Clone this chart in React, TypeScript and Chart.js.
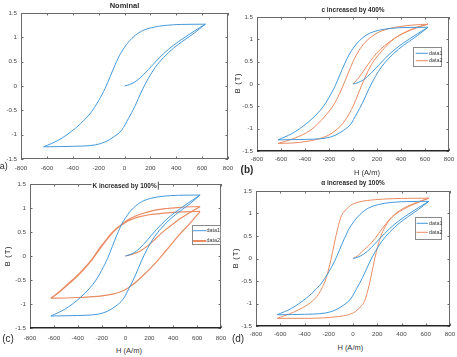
import React, { useEffect, useRef } from 'react';
import { Chart, registerables } from 'chart.js';

Chart.register(...registerables);

// ---------- axis ticks ----------
const X_TICKS = [-800, -600, -400, -200, 0, 200, 400, 600, 800];
const X_TICK_LABELS = ['-800', '-600', '-400', '-200', '0', '200', '400', '600', '800'];
const Y_TICKS = [-1.5, -1, -0.5, 0, 0.5, 1, 1.5];
const Y_TICK_LABELS = ['-1.5', '-1', '-0.5', '0', '0.5', '1', '1.5'];

// ---------- text ----------
const SERIES_LABELS = ['data1', 'data2'];
const PANEL_TITLES = ['Nominal', 'c increased by 400%', 'K increased by 100%', 'α increased by 100%'];
const PANEL_TAGS = ['a)', '(b)', '(c)', '(d)'];
const X_AXIS_TITLE = 'H (A/m)';
const Y_AXIS_TITLE = 'B (T)';

// ---------- data: [H (A/m), B (T)] ----------
// Nominal loop (data1 in every panel)
const NOM_INIT: [number, number][] = [[0, 0], [40, 0.03], [90, 0.1], [150, 0.24], [220, 0.44], [300, 0.66], [380, 0.84], [460, 0.99], [540, 1.13], [625, 1.27]];
const NOM_DESC: [number, number][] = [[-625, -1.25], [-509, -1.11], [-380, -0.87], [-300, -0.67], [-252, -0.52], [-200, -0.3], [-150, -0.05], [-110, 0.2], [-70, 0.45], [-30, 0.67], [30, 0.9], [83, 1.04], [134, 1.13], [211, 1.2], [314, 1.245], [443, 1.265], [625, 1.27]];
const NOM_ASC: [number, number][] = [[-625, -1.25], [-500, -1.245], [-400, -1.24], [-330, -1.235], [-226, -1.21], [-150, -1.15], [-80, -1.04], [-20, -0.9], [30, -0.67], [80, -0.42], [134, -0.1], [185, 0.16], [237, 0.38], [300, 0.58], [380, 0.78], [460, 0.94], [540, 1.09], [625, 1.27]];

// c increased by 400% (data2 of panel b)
const C400_INIT: [number, number][] = [[0, 0], [50, 0.15], [100, 0.34], [150, 0.53], [200, 0.7], [260, 0.85], [350, 1.03], [450, 1.18], [540, 1.28], [625, 1.34]];
const C400_DESC: [number, number][] = [[-625, -1.33], [-493, -1.22], [-352, -1.03], [-240, -0.74], [-155, -0.44], [-99, -0.14], [-42, 0.23], [0, 0.5], [50, 0.75], [100, 0.93], [150, 1.05], [200, 1.14], [300, 1.24], [400, 1.29], [500, 1.32], [625, 1.34]];
const C400_ASC: [number, number][] = [[-625, -1.33], [-500, -1.32], [-400, -1.29], [-300, -1.24], [-200, -1.14], [-150, -1.05], [-100, -0.93], [-50, -0.75], [0, -0.5], [42, -0.23], [99, 0.14], [155, 0.44], [240, 0.74], [352, 1.03], [493, 1.22], [625, 1.34]];

// K increased by 100% (data2 of panel c)
const K100_INIT: [number, number][] = [[0, 0], [60, 0.04], [121, 0.1], [180, 0.2], [231, 0.31], [290, 0.45], [342, 0.56], [400, 0.67], [453, 0.77], [510, 0.86], [564, 0.94], [625, 1.03]];
const K100_DESC1: [number, number][] = [[-625, -0.88], [-560, -0.76], [-503, -0.63], [-450, -0.51], [-392, -0.38], [-340, -0.24], [-281, -0.07], [-230, 0.12], [-170, 0.31], [-130, 0.44], [-87, 0.55], [-40, 0.64], [0, 0.72], [50, 0.79], [100, 0.85], [176, 0.91], [259, 0.96], [350, 0.99], [453, 1.015], [625, 1.03]];
const K100_DESC2: [number, number][] = [[-625, -0.885], [-503, -0.64], [-392, -0.39], [-281, -0.08], [-170, 0.3], [-87, 0.54], [0, 0.7], [60, 0.77], [120, 0.82], [200, 0.86], [300, 0.89], [400, 0.91], [500, 0.92], [625, 0.93]];
const K100_ASC: [number, number][] = [[-625, -0.88], [-500, -0.875], [-400, -0.865], [-300, -0.85], [-198, -0.83], [-100, -0.79], [-46, -0.75], [0, -0.7], [65, -0.59], [150, -0.4], [231, -0.2], [342, 0.12], [453, 0.45], [540, 0.68], [625, 0.93]];

// alpha increased by 100% (data2 of panel d)
const A100_INIT: [number, number][] = [[0, 0], [40, 0.06], [72, 0.15], [128, 0.28], [183, 0.45], [239, 0.66], [280, 0.8], [322, 0.93], [406, 1.1], [500, 1.22], [625, 1.34]];
const A100_DESC: [number, number][] = [[-625, -1.33], [-480, -1.18], [-350, -0.98], [-300, -0.85], [-260, -0.68], [-230, -0.5], [-205, -0.28], [-180, 0.0], [-155, 0.32], [-125, 0.68], [-95, 0.95], [-60, 1.08], [-20, 1.18], [40, 1.25], [120, 1.29], [250, 1.32], [400, 1.335], [625, 1.34]];
const A100_ASC: [number, number][] = [[-625, -1.33], [-400, -1.33], [-250, -1.32], [-120, -1.29], [-40, -1.25], [20, -1.18], [60, -1.08], [95, -0.95], [125, -0.68], [155, -0.32], [180, 0.0], [205, 0.28], [230, 0.5], [260, 0.68], [300, 0.85], [350, 0.98], [480, 1.18], [625, 1.34]];

// ---------- styling ----------
const FONT = "'Liberation Sans', Arial, Helvetica, sans-serif";
const BLUE = '#4599da';
const ORANGE = '#ea8c63';
const TICK_COLOR = '#474747';
const FRAME_COLOR = '#6a6a6a';

type Series = { label: string; color: string; width: number; legendWidth: number; branches: [number, number][][] };
type LegendSpec = { x: number; y: number; w: number; h: number; rows: number[]; line: [number, number]; textX: number };
type Panel = {
  geo: { l: number; t: number; r: number; b: number };
  pad: { L: number; T: number; R: number; B: number };
  xPad: number;
  bottomDark: boolean;
  series: Series[];
  legend: LegendSpec | null;
};

const blueSeries: Series = { label: SERIES_LABELS[0], color: BLUE, width: 1, legendWidth: 1, branches: [NOM_INIT, NOM_DESC, NOM_ASC] };

const PANELS: Panel[] = [
  {
    geo: { l: 21, t: 13, r: 228, b: 159 }, pad: { L: 22, T: 6, R: 8, B: 16 }, xPad: 6, bottomDark: false,
    series: [blueSeries], legend: null,
  },
  {
    geo: { l: 257, t: 17, r: 449, b: 151 }, pad: { L: 20, T: 6, R: 7, B: 16 }, xPad: 4.5, bottomDark: true,
    series: [blueSeries, { label: SERIES_LABELS[1], color: ORANGE, width: 1, legendWidth: 1, branches: [C400_INIT, C400_DESC, C400_ASC] }],
    legend: { x: 413, y: 47, w: 29, h: 20, rows: [6.3, 13.7], line: [2.7, 15], textX: 16 },
  },
  {
    geo: { l: 30, t: 184, r: 221, b: 328 }, pad: { L: 22, T: 6, R: 7, B: 16 }, xPad: 6.5, bottomDark: true,
    series: [blueSeries, { label: SERIES_LABELS[1], color: ORANGE, width: 1.2, legendWidth: 2, branches: [K100_INIT, K100_DESC1, K100_DESC2, K100_ASC] }],
    legend: { x: 192, y: 225, w: 29, h: 20, rows: [5.7, 16], line: [1, 14], textX: 14.5 },
  },
  {
    geo: { l: 256, t: 191, r: 450, b: 326 }, pad: { L: 20, T: 6, R: 6, B: 16 }, xPad: 4.5, bottomDark: true,
    series: [blueSeries, { label: SERIES_LABELS[1], color: ORANGE, width: 1, legendWidth: 1, branches: [A100_INIT, A100_DESC, A100_ASC] }],
    legend: { x: 415, y: 217, w: 27, h: 23, rows: [6.3, 15.3], line: [1.5, 13], textX: 14 },
  },
];

// ---------- plugins ----------
const framePlugin = {
  id: 'frame',
  afterDatasetsDraw(chart: any) {
    const { ctx, chartArea: a, scales } = chart;
    const len = 2.5;
    ctx.save();
    ctx.strokeStyle = FRAME_COLOR;
    ctx.lineWidth = 1;
    ctx.beginPath();
    for (const v of X_TICKS) {
      const px = Math.round(scales.x.getPixelForValue(v)) + 0.5;
      ctx.moveTo(px, a.bottom); ctx.lineTo(px, a.bottom - len);
      ctx.moveTo(px, a.top); ctx.lineTo(px, a.top + len);
    }
    for (const v of Y_TICKS) {
      const py = Math.round(scales.y.getPixelForValue(v)) + 0.5;
      ctx.moveTo(a.left, py); ctx.lineTo(a.left + len, py);
      ctx.moveTo(a.right, py); ctx.lineTo(a.right - len, py);
    }
    ctx.stroke();
    const L = Math.round(a.left), T = Math.round(a.top), R = Math.round(a.right), B = Math.round(a.bottom);
    ctx.strokeRect(L + 0.5, T + 0.5, R - L - 1, B - T - 1);
    if (chart.$bottomDark) {
      ctx.strokeStyle = '#262626';
      ctx.lineWidth = 1.6;
      ctx.beginPath();
      ctx.moveTo(L, B - 0.3);
      ctx.lineTo(R, B - 0.3);
      ctx.stroke();
    }
    ctx.restore();
  },
};

const boxLegendPlugin = {
  id: 'boxLegend',
  afterDraw(chart: any) {
    const spec = chart.$boxLegend as LegendSpec | null;
    if (!spec) return;
    const ctx = chart.ctx;
    const seen: any[] = [];
    const labels: string[] = [];
    chart.data.datasets.forEach((ds: any) => {
      if (!labels.includes(ds.label)) { labels.push(ds.label); seen.push(ds); }
    });
    ctx.save();
    ctx.fillStyle = '#ffffff';
    ctx.fillRect(spec.x, spec.y, spec.w, spec.h);
    ctx.strokeStyle = '#8a8a8a';
    ctx.lineWidth = 1;
    ctx.strokeRect(Math.round(spec.x) + 0.5, Math.round(spec.y) + 0.5, Math.round(spec.w) - 1, Math.round(spec.h) - 1);
    ctx.font = `5.4px ${FONT}`;
    ctx.textBaseline = 'middle';
    ctx.textAlign = 'left';
    seen.forEach((ds, i) => {
      const yy = spec.y + spec.rows[i];
      ctx.strokeStyle = ds.borderColor;
      ctx.lineWidth = ds.legendWidth || 1;
      ctx.beginPath();
      ctx.moveTo(spec.x + spec.line[0], yy);
      ctx.lineTo(spec.x + spec.line[1], yy);
      ctx.stroke();
      ctx.fillStyle = '#3a3a3a';
      ctx.fillText(ds.label, spec.x + spec.textX, yy);
    });
    ctx.restore();
  },
};

// ---------- chart panel ----------
function ChartPanel({ p }: { p: Panel }) {
  const ref = useRef<HTMLCanvasElement>(null);
  const { l, t, r, b } = p.geo;
  const { L, T, R, B } = p.pad;
  const left = l - L;
  const top = t - T;
  const width = r - l + L + R;
  const height = b - t + T + B;

  useEffect(() => {
    if (!ref.current) return;
    const datasets = p.series.flatMap((s) =>
      s.branches.map((br) => ({
        label: s.label,
        data: br.map(([h, v]) => ({ x: h, y: v })),
        borderColor: s.color,
        borderWidth: s.width,
        pointRadius: 0,
        fill: false,
        cubicInterpolationMode: 'monotone' as const,
        legendWidth: s.legendWidth,
      }))
    );
    const tickFont = { family: FONT, size: 6.2 };
    const chart: any = new Chart(ref.current, {
      type: 'line',
      data: { datasets: datasets as any },
      options: {
        animation: false,
        responsive: false,
        events: [],
        layout: { padding: { left: 0, top: T, right: R, bottom: 0 } },
        plugins: { legend: { display: false }, tooltip: { enabled: false } },
        scales: {
          x: {
            type: 'linear',
            min: -800,
            max: 800,
            afterBuildTicks: (s: any) => { s.ticks = X_TICKS.map((v) => ({ value: v })); },
            afterFit: (s: any) => { s.height = B; s.paddingLeft = 0; s.paddingRight = 0; },
            grid: { display: false, drawTicks: false },
            border: { display: false },
            ticks: {
              padding: p.xPad,
              font: tickFont,
              color: TICK_COLOR,
              maxRotation: 0,
              autoSkip: false,
              callback: (v: any) => X_TICK_LABELS[X_TICKS.indexOf(Number(v))],
            },
          },
          y: {
            type: 'linear',
            min: -1.5,
            max: 1.5,
            afterBuildTicks: (s: any) => { s.ticks = Y_TICKS.map((v) => ({ value: v })); },
            afterFit: (s: any) => { s.width = L; s.paddingTop = 0; s.paddingBottom = 0; },
            grid: { display: false, drawTicks: false },
            border: { display: false },
            ticks: {
              padding: 4,
              font: tickFont,
              color: TICK_COLOR,
              autoSkip: false,
              callback: (v: any) => Y_TICK_LABELS[Y_TICKS.indexOf(Number(v))],
            },
          },
        },
      },
      plugins: [framePlugin, boxLegendPlugin],
    });
    chart.$boxLegend = p.legend ? { ...p.legend, x: p.legend.x - left, y: p.legend.y - top } : null;
    chart.$bottomDark = p.bottomDark;
    chart.draw();
    return () => chart.destroy();
  }, []);

  return (
    <canvas
      ref={ref}
      width={width}
      height={height}
      style={{ position: 'absolute', left, top, width, height, display: 'block' }}
    />
  );
}

// ---------- text overlays ----------
function Txt(props: {
  text: string; cx: number; cy: number; size: number; bold?: boolean; sx?: number; rot?: boolean;
  bg?: boolean; color?: string; barRight?: boolean; spacing?: number;
}) {
  const { text, cx, cy, size, bold, sx = 1, rot, bg, color = '#2b2b2b', barRight, spacing = 0 } = props;
  return (
    <div
      style={{
        position: 'absolute',
        left: cx,
        top: cy,
        transform: `translate(-50%, -50%)${rot ? ' rotate(-90deg)' : ''} scaleX(${sx})`,
        fontFamily: FONT,
        fontSize: size,
        fontWeight: bold ? 700 : 400,
        color,
        whiteSpace: 'nowrap',
        lineHeight: 1.15,
        letterSpacing: spacing,
        background: bg ? '#ffffff' : 'transparent',
        padding: bg ? '0 1px' : 0,
        borderRight: barRight ? '1px solid #333' : 'none',
        zIndex: 2,
      }}
    >
      {text}
    </div>
  );
}

export default function App() {
  return (
    <div style={{ position: 'absolute', left: 0, top: 0, width: 457, height: 357, background: '#ffffff', overflow: 'hidden' }}>
      {PANELS.map((p, i) => <ChartPanel key={i} p={p} />)}

      {/* panel titles */}
      <Txt text={PANEL_TITLES[0]} cx={124.5} cy={6.3} size={7.5} bold />
      <Txt text={PANEL_TITLES[1]} cx={353} cy={10.3} size={7.5} bold sx={0.86} />
      <Txt text={PANEL_TITLES[2]} cx={125} cy={185.5} size={7.5} bold sx={0.86} bg barRight />
      <Txt text={PANEL_TITLES[3]} cx={353} cy={183.3} size={7.5} bold sx={0.86} />

      {/* axis titles */}
      <Txt text={X_AXIS_TITLE} cx={367} cy={173} size={7.5} color="#333333" />
      <Txt text={Y_AXIS_TITLE} cx={238} cy={83} size={7.5} rot spacing={0.8} />
      <Txt text={X_AXIS_TITLE} cx={129} cy={351} size={7.5} color="#333333" />
      <Txt text={Y_AXIS_TITLE} cx={7.5} cy={256} size={7.5} rot spacing={0.8} />
      <Txt text={X_AXIS_TITLE} cx={350.3} cy={348} size={7.5} color="#333333" />
      <Txt text={Y_AXIS_TITLE} cx={236.3} cy={258.3} size={7.5} rot spacing={0.8} />

      {/* panel tags */}
      <Txt text={PANEL_TAGS[0]} cx={3.7} cy={165.5} size={9} />
      <Txt text={PANEL_TAGS[1]} cx={247} cy={169.5} size={10} bold />
      <Txt text={PANEL_TAGS[2]} cx={8} cy={339} size={10} />
      <Txt text={PANEL_TAGS[3]} cx={238} cy={339} size={10} />
    </div>
  );
}
